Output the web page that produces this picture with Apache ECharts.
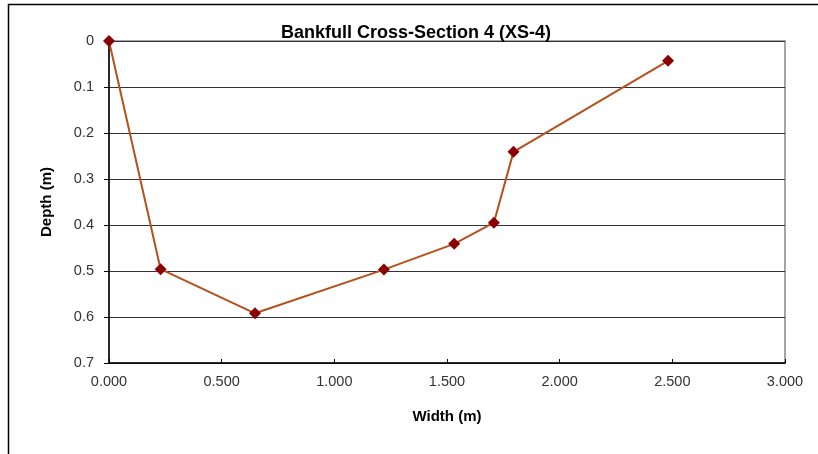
<!DOCTYPE html>
<html>
<head>
<meta charset="utf-8">
<style>
  html, body { margin: 0; padding: 0; background: #fff; }
  #chart { width: 818px; height: 454px; }
</style>
<script src="https://cdn.jsdelivr.net/npm/echarts@6/dist/echarts.min.js"></script>
</head>
<body>
<div id="chart"></div>
<script>
// Surveyed cross-section points: horizontal station (m) and depth below bankfull (m)
const widthM = [0.000, 0.229, 0.648, 1.220, 1.532, 1.708, 1.795, 2.481];
const depthM = [0.000, 0.496, 0.592, 0.497, 0.441, 0.395, 0.241, 0.043];

const xTicks = [0, 0.5, 1, 1.5, 2, 2.5, 3];
const yTicks = [0, 0.1, 0.2, 0.3, 0.4, 0.5, 0.6, 0.7];

const points = widthM.map((w, i) => [w, depthM[i]]);

const chart = echarts.init(document.getElementById('chart'), null, { renderer: 'canvas' });
const font = 'Arial, "Liberation Sans", sans-serif';

chart.setOption({
  animation: false,
  backgroundColor: '#fff',
  graphic: [
    {
      // outer chart frame (top and left edges visible)
      type: 'rect',
      shape: { x: 8.5, y: 4.5, width: 900, height: 600 },
      style: { fill: 'none', stroke: '#000', lineWidth: 1.5 },
      silent: true
    }
  ],
  title: {
    text: 'Bankfull Cross-Section 4 (XS-4)',
    left: 276,
    top: 19,
    textStyle: { fontFamily: font, fontSize: 18, fontWeight: 'bold', color: '#000' }
  },
  grid: {
    left: 109, right: 33, top: 41, bottom: 91,
    show: true,
    borderColor: '#888',
    borderWidth: 1.5,
    backgroundColor: 'transparent'
  },
  xAxis: {
    type: 'value',
    min: xTicks[0],
    max: xTicks[xTicks.length - 1],
    interval: 0.5,
    name: 'Width (m)',
    nameLocation: 'middle',
    nameGap: 46,
    nameTextStyle: { fontFamily: font, fontSize: 15, fontWeight: 'bold', color: '#000' },
    axisLine: { show: true, onZero: false, lineStyle: { color: '#000', width: 1.5 } },
    axisTick: { show: true, inside: true, length: 4, lineStyle: { color: '#000' } },
    axisLabel: {
      fontFamily: font, fontSize: 14.5, color: '#333', margin: 11,
      formatter: v => v.toFixed(3)
    },
    splitLine: { show: false }
  },
  yAxis: {
    type: 'value',
    inverse: true,
    min: yTicks[0],
    max: yTicks[yTicks.length - 1],
    interval: 0.1,
    name: 'Depth (m)',
    nameLocation: 'middle',
    nameGap: 55,
    nameRotate: 90,
    nameTextStyle: { fontFamily: font, fontSize: 15, fontWeight: 'bold', color: '#000' },
    axisLine: { show: true, onZero: false, lineStyle: { color: '#000', width: 1.5 } },
    axisTick: { show: true, inside: false, length: 5, lineStyle: { color: '#000' } },
    axisLabel: {
      fontFamily: font, fontSize: 14.5, color: '#333', margin: 15,
      formatter: v => String(Math.round(v * 10) / 10)
    },
    splitLine: { show: true, lineStyle: { color: '#333', width: 1 } }
  },
  series: [
    {
      type: 'line',
      data: points,
      symbol: 'diamond',
      symbolSize: 12,
      lineStyle: { color: '#B5501C', width: 2 },
      itemStyle: { color: '#8B0000' },
      z: 5
    }
  ]
});
</script>
</body>
</html>
